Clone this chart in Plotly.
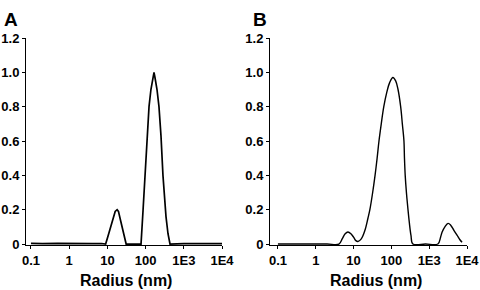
import plotly.graph_objects as go

# Panel A: radius (nm) and normalized intensity
radius_a = [0.1, 0.2, 0.5, 1, 2, 4, 7, 9.0, 10.5, 12, 14, 16, 18, 19.5, 22, 25, 28, 31,
            50, 76, 86, 96, 109, 123, 138, 156, 166, 176, 199, 224, 253, 285, 322, 342, 386, 436,
            1000, 3000, 10000]
inten_a = [0.004, 0.002, 0.004, 0.002, 0.004, 0.002, 0.003, 0.0, 0.05, 0.1, 0.15, 0.19, 0.2, 0.19, 0.14, 0.08, 0.03, 0.0,
           0.0, 0.0, 0.2, 0.4, 0.6, 0.8, 0.9, 0.97, 1.0, 0.97, 0.9, 0.8, 0.63, 0.4, 0.22, 0.16, 0.06, 0.0,
           0.002, 0.002, 0.002]

# Panel B
radius_b = [0.1, 0.5, 2, 4.1, 5, 6, 7.1, 8.5, 10, 11.5, 13, 16, 20, 24, 27, 32, 37, 42, 47, 54, 63, 75, 90,
            110, 130, 150, 176, 195, 215, 222, 232, 250, 275, 300, 330, 371,
            800, 1700, 2000, 2200, 2600, 3160, 3700, 4500, 5500, 6500, 7400]
inten_b = [0.0, 0.0, 0.0, 0.0, 0.03, 0.06, 0.07, 0.06, 0.04, 0.02, 0.015, 0.03, 0.08, 0.15, 0.2, 0.3, 0.4, 0.5, 0.6, 0.7, 0.8, 0.88, 0.94,
           0.97, 0.95, 0.9, 0.8, 0.7, 0.6, 0.5, 0.4, 0.3, 0.2, 0.12, 0.05, 0.0,
           0.0, 0.0, 0.04, 0.07, 0.1, 0.12, 0.11, 0.08, 0.05, 0.025, 0.01]

x_tickvals = [0.1, 1, 10, 100, 1000, 10000]
x_ticktext = ["0.1", "1", "10", "100", "1E3", "1E4"]
y_tickvals = [0, 0.2, 0.4, 0.6, 0.8, 1.0, 1.2]
y_ticktext = ["0", "0.2", "0.4", "0.6", "0.8", "1.0", "1.2"]

FONT = "Liberation Sans, Arial, Helvetica, sans-serif"
W, H = 480, 290


def px(x):
    return x / W


def py(y):
    return (H - y) / H


fig = go.Figure()
fig.add_trace(go.Scatter(x=radius_a, y=inten_a, mode="lines",
                         line=dict(color="black", width=1.7), xaxis="x", yaxis="y",
                         showlegend=False, cliponaxis=False, hoverinfo="skip"))
fig.add_trace(go.Scatter(x=radius_b, y=inten_b, mode="lines", line_shape="spline",
                         line=dict(color="black", width=1.4), xaxis="x2", yaxis="y2",
                         showlegend=False, cliponaxis=False, hoverinfo="skip"))

common_x = dict(type="log", tickvals=x_tickvals, ticktext=x_ticktext, showline=True,
                linecolor="black", linewidth=1, ticks="outside", ticklen=3, tickcolor="black",
                showgrid=False, zeroline=False, automargin=False,
                tickfont=dict(family=FONT, size=13, color="black", weight="bold"))
common_y = dict(range=[-0.008, 1.2], tickvals=y_tickvals, ticktext=y_ticktext, showline=True,
                linecolor="black", linewidth=1, ticks="outside", ticklen=3, tickcolor="black",
                showgrid=False, zeroline=False, domain=[py(245.4), py(38)], automargin=False,
                tickfont=dict(family=FONT, size=13, color="black", weight="bold"))

fig.update_layout(
    width=W, height=H, margin=dict(l=0, r=0, t=0, b=0, autoexpand=False),
    paper_bgcolor="white", plot_bgcolor="white",
    xaxis=dict(common_x, domain=[px(26), px(222)], range=[-1.13, 4.0], anchor="y"),
    yaxis=dict(common_y, anchor="x"),
    xaxis2=dict(common_x, domain=[px(270), px(467)], range=[-1.21, 4.0], anchor="y2"),
    yaxis2=dict(common_y, anchor="x2"),
    annotations=[
        dict(text="<b>Radius (nm)</b>", x=px(126), y=py(280), xref="paper", yref="paper",
             showarrow=False, font=dict(family=FONT, size=16, color="black"),
             xanchor="center", yanchor="middle"),
        dict(text="<b>Radius (nm)</b>", x=px(376), y=py(280), xref="paper", yref="paper",
             showarrow=False, font=dict(family=FONT, size=16, color="black"),
             xanchor="center", yanchor="middle"),
        dict(text="<b>A</b>", x=px(11), y=py(19), xref="paper", yref="paper",
             showarrow=False, font=dict(family=FONT, size=19, color="black"),
             xanchor="center", yanchor="middle"),
        dict(text="<b>B</b>", x=px(260), y=py(19), xref="paper", yref="paper",
             showarrow=False, font=dict(family=FONT, size=19, color="black"),
             xanchor="center", yanchor="middle"),
    ],
)

fig.write_html("out.html",
               config={"displayModeBar": False},
               post_script="document.body.style.margin='0px';document.body.style.overflow='hidden';")
